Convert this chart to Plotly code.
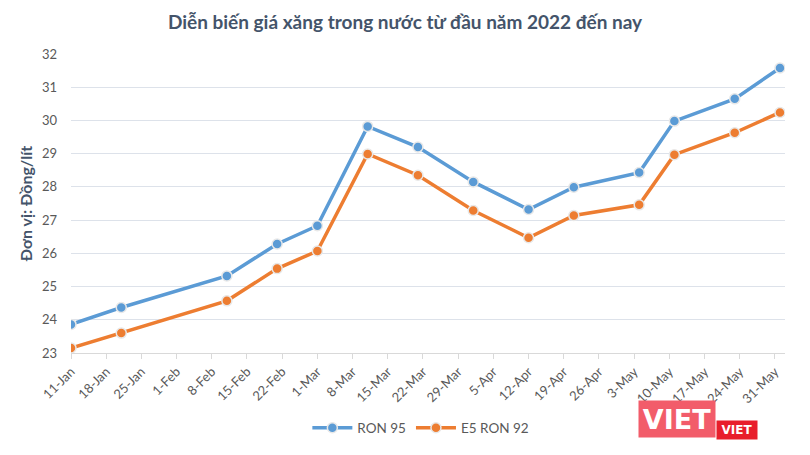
import plotly.graph_objects as go

dates = ["2022-01-11", "2022-01-21", "2022-02-11", "2022-02-21", "2022-03-01", "2022-03-11",
         "2022-03-21", "2022-04-01", "2022-04-12", "2022-04-21", "2022-05-04", "2022-05-11",
         "2022-05-23", "2022-06-01"]
ron95 = [23.86, 24.37, 25.32, 26.28, 26.83, 29.82, 29.20, 28.15, 27.32, 27.99, 28.43, 29.98, 30.65, 31.58]
e5ron92 = [23.15, 23.60, 24.57, 25.54, 26.07, 28.99, 28.35, 27.29, 26.47, 27.14, 27.46, 28.97, 29.63, 30.24]
series_names = ["RON 95", "E5 RON 92"]
colors = ["#5b9bd5", "#ed7d31"]
title = "Diễn biến giá xăng trong nước từ đầu năm 2022 đến nay"
ytitle = "Đơn vị: Đồng/lít"
y_ticks = [23, 24, 25, 26, 27, 28, 29, 30, 31, 32]

FONT = "Lato"
W, H = 810, 455
L, R, T, B = 71, 25, 54, 98
PW, PH = W - L - R, H - T - B

fig = go.Figure()
for name, vals, c in zip(series_names, [ron95, e5ron92], colors):
    fig.add_trace(go.Scatter(
        x=dates, y=vals, name=name, mode="lines+markers",
        line=dict(color=c, width=3.5),
        marker=dict(size=10, color=c, line=dict(color="#e8e8e8", width=1.5)),
    ))

fig.update_layout(
    width=W, height=H,
    margin=dict(l=L, r=R, t=T, b=B),
    paper_bgcolor="white", plot_bgcolor="white",
    font=dict(family=FONT, size=13, color="#595959"),
    title=dict(text="<b>" + title + "</b>", x=0.5, xanchor="center", y=1 - 22 / H, yanchor="middle",
               font=dict(family=FONT, size=19, color="#44546a")),
    showlegend=True,
    legend=dict(orientation="h", x=0.49, xanchor="center", y=-(433 - (H - B)) / PH, yanchor="middle",
                font=dict(family=FONT, size=13.5, color="#595959"), itemwidth=40),
    xaxis=dict(
        type="date", range=["2022-01-11", "2022-06-02"],
        tick0="2022-01-11", dtick=7 * 24 * 3600 * 1000, tickformat="%-d-%b",
        tickangle=-45, showgrid=False, showline=True, linecolor="#d9d9d9", linewidth=1,
        ticks="outside", ticklen=5, tickcolor="#d9d9d9",
        tickfont=dict(family=FONT, size=13, color="#595959"),
        zeroline=False,
    ),
    yaxis=dict(
        range=[23, 32], tickvals=y_ticks, showgrid=True, gridcolor="#dde2ea", gridwidth=1,
        zeroline=False, showline=False, ticks="", ticklabelstandoff=13,
        tickfont=dict(family=FONT, size=13, color="#595959"),
        title=dict(text="<b>" + ytitle + "</b>", standoff=5,
                   font=dict(family=FONT, size=16, color="#44546a")),
    ),
)

# VIET watermark approximation
fig.add_annotation(xref="paper", yref="paper", x=(638 - L) / PW, y=-(424 - (H - B)) / PH,
                   xanchor="left", yanchor="middle", showarrow=False, width=76, height=36,
                   text="<b>VIET</b>", font=dict(family="DejaVu Sans", size=27, color="white"),
                   bgcolor="#f25c6a", borderpad=0)
fig.add_annotation(xref="paper", yref="paper", x=(716 - L) / PW, y=-(435 - (H - B)) / PH,
                   xanchor="left", yanchor="middle", showarrow=False, width=40, height=18,
                   text="<b>VIET</b>", font=dict(family="DejaVu Sans", size=12, color="white"),
                   bgcolor="#e81e2b", borderpad=0)

fig.write_html("out.html", config={"displayModeBar": False},
               post_script="document.body.style.margin='0';")
